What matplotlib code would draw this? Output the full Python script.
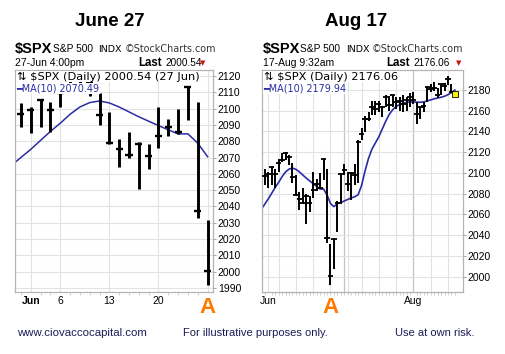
import numpy as np
import matplotlib
matplotlib.use("Agg")
import matplotlib.pyplot as plt
import matplotlib.transforms as mtrans

plt.rcParams['text.parse_math'] = False
plt.rcParams['font.family'] = ['Liberation Sans', 'DejaVu Sans']

# daily $SPX bars, May 31 .. Aug 17 2016
dates = ['May31', 'Jun1', 'Jun2', 'Jun3', 'Jun6', 'Jun7', 'Jun8', 'Jun9', 'Jun10',
         'Jun13', 'Jun14', 'Jun15', 'Jun16', 'Jun17', 'Jun20', 'Jun21', 'Jun22', 'Jun23',
         'Jun24', 'Jun27', 'Jun28', 'Jun29', 'Jun30', 'Jul1', 'Jul5', 'Jul6', 'Jul7',
         'Jul8', 'Jul11', 'Jul12', 'Jul13', 'Jul14', 'Jul15', 'Jul18', 'Jul19', 'Jul20',
         'Jul21', 'Jul22', 'Jul25', 'Jul26', 'Jul27', 'Jul28', 'Jul29', 'Aug1', 'Aug2',
         'Aug3', 'Aug4', 'Aug5', 'Aug8', 'Aug9', 'Aug10', 'Aug11', 'Aug12', 'Aug15',
         'Aug16', 'Aug17']
high = [2103.5, 2101.0, 2105.3, 2104.1, 2113.4, 2119.2, 2120.6, 2117.6, 2109.6,
        2098.1, 2081.3, 2085.7, 2079.6, 2078.2, 2100.7, 2093.7, 2099.7, 2113.3,
        2103.8, 2031.5, 2036.1, 2073.1, 2098.9, 2108.7, 2100.7, 2100.7, 2109.1,
        2131.7, 2143.2, 2155.4, 2159.0, 2169.0, 2169.1, 2169.0, 2163.8, 2175.6,
        2174.6, 2175.1, 2173.7, 2173.5, 2175.0, 2172.9, 2177.1, 2178.3, 2168.1,
        2164.0, 2168.2, 2182.9, 2185.4, 2187.7, 2182.2, 2185.8, 2186.3, 2193.8,
        2186.2, 2178.5]
low = [2088.7, 2085.1, 2088.6, 2085.4, 2100.8, 2110.2, 2112.7, 2107.7, 2090.0,
       2078.5, 2064.1, 2069.8, 2050.4, 2062.8, 2075.6, 2083.0, 2084.4, 2092.8,
       2032.6, 1991.7, 2007.0, 2042.7, 2070.0, 2097.9, 2083.0, 2074.0, 2088.0,
       2090.0, 2131.7, 2139.6, 2150.1, 2155.8, 2155.8, 2159.1, 2154.0, 2163.8,
       2159.8, 2163.2, 2162.0, 2160.2, 2159.1, 2159.7, 2163.5, 2166.2, 2147.6,
       2152.5, 2159.1, 2168.6, 2177.9, 2178.6, 2172.0, 2175.2, 2179.4, 2184.7,
       2178.1, 2174.5]
close = [2097.0, 2099.3, 2105.3, 2099.1, 2109.4, 2112.1, 2119.1, 2115.5, 2096.1,
         2079.1, 2075.3, 2071.5, 2078.0, 2071.2, 2083.3, 2088.9, 2085.5, 2113.3,
         2037.4, 2000.5, 2036.1, 2070.8, 2098.9, 2103.0, 2089.0, 2099.7, 2097.9,
         2129.9, 2137.2, 2152.1, 2152.4, 2163.8, 2161.7, 2166.9, 2163.8, 2173.0,
         2165.2, 2175.0, 2168.5, 2169.2, 2166.6, 2170.1, 2173.6, 2170.8, 2157.0,
         2163.8, 2164.3, 2182.9, 2180.9, 2181.7, 2175.5, 2185.8, 2184.1, 2190.2,
         2178.2, 2176.1]
# MA(10), first value is May 27 (one bar before May 31)
ma10 = [2065.0, 2070.0, 2075.0, 2080.5, 2086.0, 2091.0, 2096.5, 2101.0, 2103.7,
        2104.7, 2103.5, 2101.0, 2098.0, 2095.0, 2092.3, 2089.6, 2087.0, 2084.5,
        2084.5, 2078.8, 2070.5, 2067.5, 2070.5, 2071.5, 2073.0, 2074.5, 2076.0,
        2077.0, 2079.0, 2088.0, 2102.0, 2114.0, 2123.0, 2129.0, 2135.0, 2142.5,
        2150.0, 2156.5, 2161.0, 2164.0, 2166.0, 2167.2, 2168.0, 2168.5, 2168.5,
        2168.2, 2168.2, 2168.5, 2169.5, 2170.5, 2171.5, 2172.3, 2173.0, 2174.0,
        2175.5, 2177.5, 2179.9]

x = np.arange(len(dates))
ma_x = np.arange(-1, len(dates))
high = np.array(high); low = np.array(low); close = np.array(close)

left_n = dates.index('Jun27') + 1

W, H = 506, 354
fig = plt.figure(figsize=(W / 100, H / 100), dpi=100)
fig.patch.set_facecolor('white')

def fx(px):
    return px / W

def fy(py):
    return 1 - py / H

ax1 = fig.add_axes([fx(15), fy(292), fx(213) - fx(15), fy(70) - fy(292)])
ax2 = fig.add_axes([fx(262), fy(292), fx(462.5) - fx(262), fy(70) - fy(292)])

ma_col = '#2b2ba6'
grid_col = '#e2e2e2'

for ax in (ax1, ax2):
    for s in ax.spines.values():
        s.set_color('#b4b4b4')
        s.set_linewidth(0.9)
    ax.yaxis.tick_right()
    ax.tick_params(axis='y', length=2, width=0.6, color='#999999', pad=1.5,
                   labelsize=7.5)
    ax.tick_params(axis='x', length=0, pad=3, labelsize=7.5)
    ax.tick_params(axis='x', which='minor', length=2, width=0.6, color='#c8c8c8')
    ax.set_axisbelow(True)

# ---- left chart: June 27
xl = x[:left_n]
ax1.vlines(xl, low[:left_n], high[:left_n], color='k', lw=2.1, zorder=3)
ax1.hlines(close[:left_n], xl - 0.36, xl + 0.36, color='k', lw=1.7, zorder=3)
ax1.plot(ma_x[:left_n + 1], ma10[:left_n + 1], color=ma_col, lw=1.1, zorder=2)
ax1.set_xlim(-0.6, 19.55)
ax1.set_ylim(1987.5, 2123.7)
ax1.set_yticks(np.arange(1990, 2121, 10))
ax1.grid(axis='y', color=grid_col, lw=0.8)
lt = [dates.index(d) for d in ['Jun1', 'Jun6', 'Jun13', 'Jun20', 'Jun27']]
ax1.set_xticks(lt)
ax1.set_xticklabels(['Jun', '6', '13', '20', ''])
ax1.get_xticklabels()[0].set_fontweight('bold')
ax1.set_xticks(xl, minor=True)
ax1.grid(axis='x', color=grid_col, lw=0.8)

# ---- right chart: Aug 17
ax2.vlines(x, low, high, color='k', lw=1.4, zorder=3)
ax2.hlines(close, x - 0.75, x + 0.75, color='k', lw=1.3, zorder=3)
ax2.plot(ma_x, ma10, color=ma_col, lw=1.2, zorder=2)
ax2.plot(x[-1], close[-1], marker='s', ms=4, mfc='#ffee00', mec='k', mew=0.6,
         zorder=4)
ax2.set_xlim(-0.82, 57.2)
ax2.set_ylim(1985.2, 2199.3)
ax2.set_yticks(np.arange(2000, 2181, 20))
ax2.grid(axis='y', color=grid_col, lw=0.8)
weeks = ['Jun1', 'Jun6', 'Jun13', 'Jun20', 'Jun27', 'Jul5', 'Jul11', 'Jul18',
         'Jul25', 'Aug8', 'Aug15']
for d in weeks:
    ax2.axvline(dates.index(d), color=grid_col, lw=0.8, zorder=0)
for d in ['Jul1', 'Aug1']:
    ax2.axvline(dates.index(d), color='#c4c4c4', lw=0.9, zorder=0)
ax2.set_xticks([dates.index('Jun1'), dates.index('Aug1')])
ax2.set_xticklabels(['Jun', 'Aug'])
ax2.set_xticks(x, minor=True)

# ---- in-chart legends
leg_box = dict(facecolor='white', edgecolor='none', pad=0.5)
ax1.text(0.01, 0.993, '\u21c5 $SPX (Daily) 2000.54 (27 Jun)', transform=ax1.transAxes,
         va='top', ha='left', fontsize=8.2, family='DejaVu Sans', bbox=leg_box,
         zorder=6)
ax1.text(0.008, 0.938, '\u2501MA(10) 2070.49', transform=ax1.transAxes,
         va='top', ha='left', fontsize=6.9, family='DejaVu Sans', color=ma_col,
         bbox=leg_box, zorder=6)
ax2.text(0.01, 0.993, '\u21c5 $SPX (Daily) 2176.06', transform=ax2.transAxes,
         va='top', ha='left', fontsize=8.2, family='DejaVu Sans', bbox=leg_box,
         zorder=6)
ax2.text(0.008, 0.938, '\u2501MA(10) 2179.94', transform=ax2.transAxes,
         va='top', ha='left', fontsize=6.9, family='DejaVu Sans', color=ma_col,
         bbox=leg_box, zorder=6)

# ---- "A" markers under Jun 27
for ax in (ax1, ax2):
    tr = mtrans.blended_transform_factory(ax.transData, ax.transAxes)
    ax.text(dates.index('Jun27'), -0.068, 'A', transform=tr, ha='center', va='center',
            fontsize=16, fontweight='bold', color='#ff7b00', clip_on=False)

# ---- headers
fig.text(fx(110), fy(21), 'June 27', ha='center', va='center', fontsize=13.5,
         fontweight='bold')
fig.text(fx(356), fy(21), 'Aug 17', ha='center', va='center', fontsize=13.5,
         fontweight='bold')

heads = [
    (15, 53, 98, 125, '27-Jun 4:00pm', 138, 165, 199, '2000.54'),
    (263, 300, 346, 372, '17-Aug 9:32am', 386, 413, 455, '2176.06'),
]
for x0, xsp, xin, xsc, stamp, xlast, xval, xtri, val in heads:
    fig.text(fx(x0), fy(49), '$SPX', ha='left', va='center', fontsize=10.5,
             fontweight='bold')
    fig.text(fx(xsp), fy(49.5), 'S&P 500', ha='left', va='center', fontsize=7.3)
    fig.text(fx(xin), fy(49.5), 'INDX', ha='left', va='center', fontsize=6.8,
             family='DejaVu Sans')
    fig.text(fx(xsc), fy(49.5), '\u00a9StockCharts.com', ha='left', va='center',
             fontsize=6.9, family='DejaVu Sans', color='#333333')
    fig.text(fx(x0), fy(63), stamp, ha='left', va='center', fontsize=7.5)
    fig.text(fx(xlast), fy(63), 'Last', ha='left', va='center', fontsize=8.3,
             fontweight='bold')
    fig.text(fx(xval), fy(63), val, ha='left', va='center', fontsize=7.2)
    fig.text(fx(xtri + 1), fy(63.5), '\u25bc', ha='left', va='center', fontsize=5,
             color='#cc1111', family='DejaVu Sans')

# ---- footer
foot_col = '#1c1c55'
fig.text(fx(17), fy(333), 'www.ciovaccocapital.com', ha='left', va='center',
         fontsize=8.2, color=foot_col)
fig.text(fx(183), fy(333), 'For illustrative purposes only.', ha='left',
         va='center', fontsize=8, color=foot_col)
fig.text(fx(395), fy(333), 'Use at own risk.', ha='left', va='center',
         fontsize=8, color=foot_col)

fig.savefig('out.png', dpi=100)
